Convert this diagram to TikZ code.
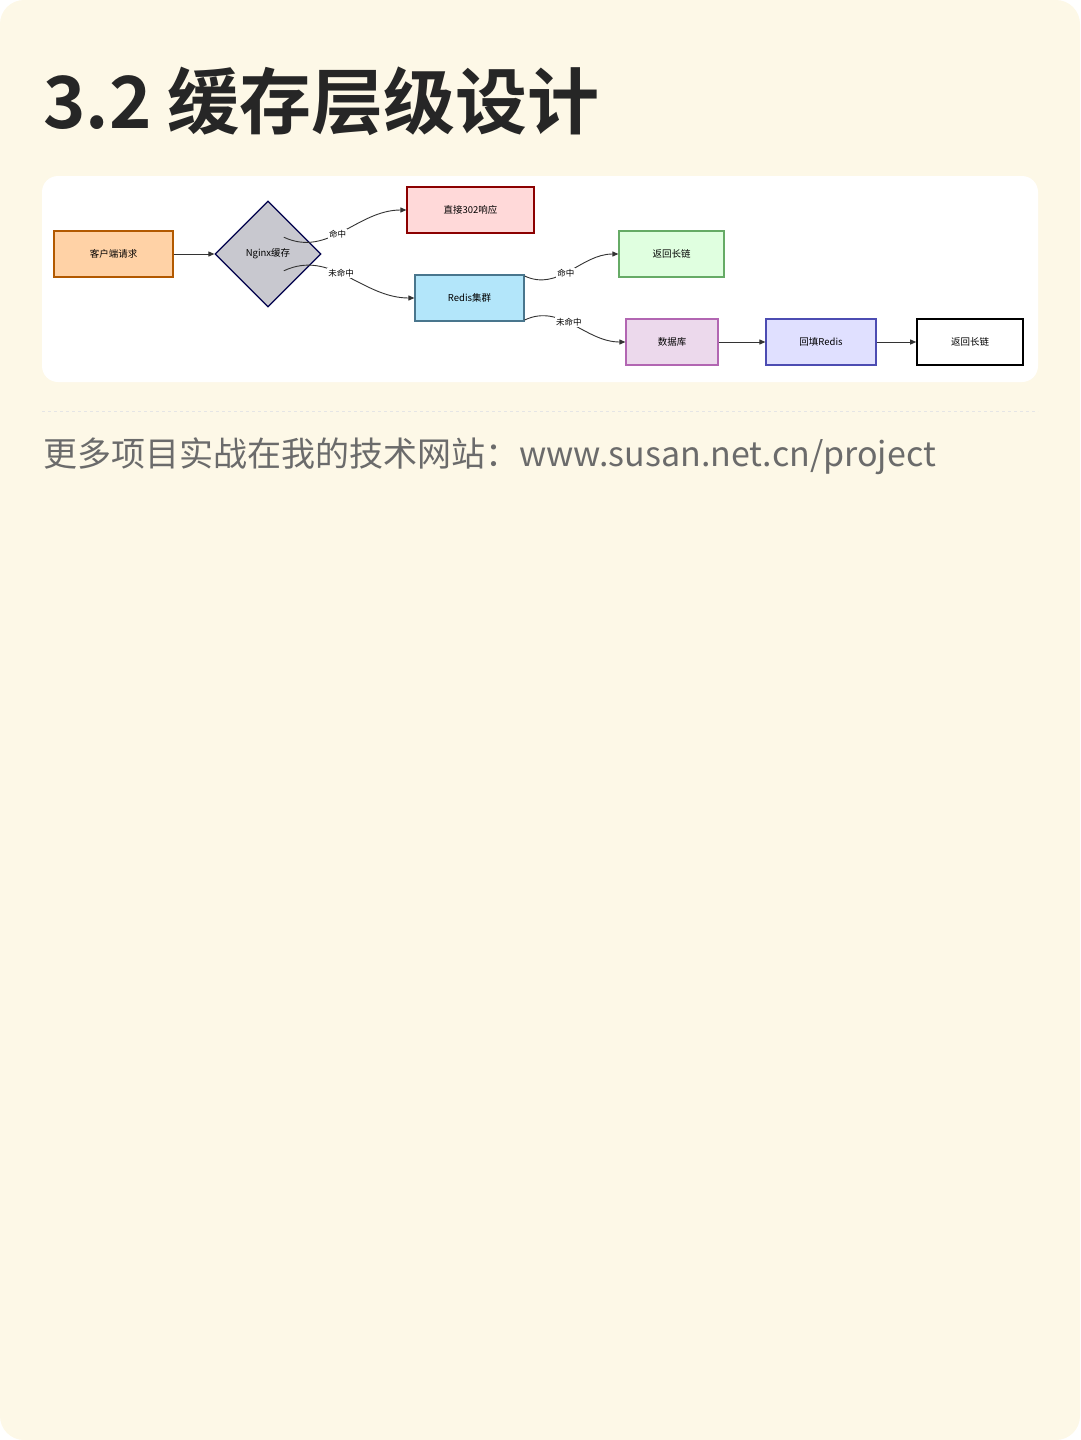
\documentclass[tikz,border=0pt]{standalone}
\usepackage{fontspec}
\setmainfont{Noto Sans CJK SC}
\newfontfamily\boldcjk{Noto Sans CJK SC Bold}
\usetikzlibrary{shapes.geometric,arrows.meta}
\definecolor{bgc}{HTML}{FDF8E7}
\tikzset{
  box/.style={draw, line width=1.2pt, minimum height=46pt, inner sep=0pt, font=\fontsize{9.5}{10}\selectfont},
  arr/.style={-{Triangle[length=6pt,width=5pt]}, line width=0.9pt, draw=black!80},
  lab/.style={fill=white, inner sep=1pt, font=\fontsize{8.5}{9}\selectfont}
}
\begin{document}
\begin{tikzpicture}[x=1pt,y=-1pt]
\useasboundingbox (0,0) rectangle (1080,1440);
\fill[bgc, rounded corners=24pt] (0,0) rectangle (1080,1440);
\fill[white, rounded corners=16pt] (42,176) rectangle (1038,382);
\draw[black!10, dashed, line width=0.6pt] (42,411) -- (1038,411);
\node[anchor=base west, inner sep=0pt, text=black!85] (title) at (43,128) {\fontsize{72}{80}\selectfont\boldcjk 3.2 缓存层级设计};
\node[anchor=base west, inner sep=0pt, text=black!58] (sub) at (43,466) {\fontsize{34}{40}\selectfont 更多项目实战在我的技术网站：www.susan.net.cn/project};

\node[box, fill=orange!35!white, draw=orange!70!black, minimum width=119pt] (client) at (113.5,254) {客户端请求};
\node[draw=black!70!blue, fill=black!10!blue!8!gray!40, line width=1.2pt, diamond, minimum width=106pt, minimum height=106pt, inner sep=0pt, font=\fontsize{9.5}{10}\selectfont] (nginx) at (268,254) {Nginx缓存};
\node[box, fill=red!15, draw=red!55!black, minimum width=127pt] (r302) at (470.5,210) {直接302响应};
\node[box, fill=cyan!30, draw=cyan!50!black, minimum width=109pt] (redis) at (469.5,298) {Redis集群};
\node[box, fill=green!12, draw=green!45!black!60, minimum width=105pt] (ret1) at (671.5,254) {返回长链};
\node[box, fill=violet!15, draw=violet!60, minimum width=92pt] (db) at (672,342) {数据库};
\node[box, fill=blue!12, draw=blue!40!gray, minimum width=110pt] (fill) at (821,342) {回填Redis};
\node[box, fill=white, draw=black, line width=1.6pt, minimum width=106pt] (ret2) at (970,342) {返回长链};

\draw[arr] (client) -- (nginx);
\draw[arr] (nginx.north east) ++(-11,10) coordinate (n1) to[out=-25,in=180] node[lab, pos=0.45] {命中} (r302.west);
\draw[arr] (nginx.south east) ++(-11,-10) coordinate (n2) to[out=25,in=180] node[lab, pos=0.45] {未命中} (redis.west);
\draw[arr] (redis.east) ++(0,-22) coordinate (r1) to[out=-25,in=180] node[lab, pos=0.45] {命中} (ret1.west);
\draw[arr] (redis.east) ++(0,22) coordinate (r2) to[out=25,in=180] node[lab, pos=0.45] {未命中} (db.west);
\draw[arr] (db) -- (fill);
\draw[arr] (fill) -- (ret2);
\end{tikzpicture}
\end{document}
